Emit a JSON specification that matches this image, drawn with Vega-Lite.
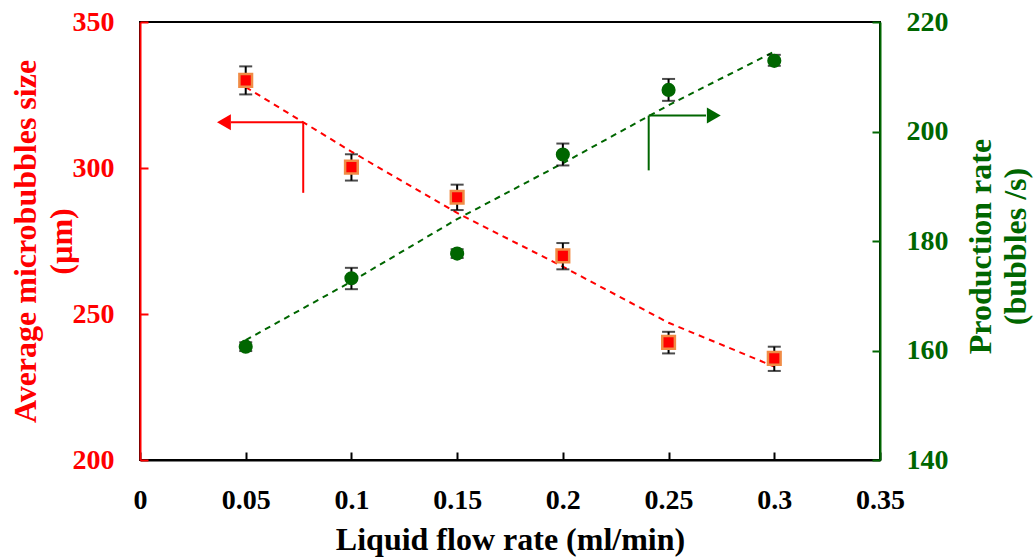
{
  "$schema": "https://vega.github.io/schema/vega-lite/v6.json",
  "width": 740,
  "height": 438,
  "autosize": {"type": "none"},
  "padding": {"left": 140, "top": 22, "right": 155, "bottom": 100},
  "datasets": {
    "size": [
      {"x": 0.05, "v": 330, "lo": 325.2, "hi": 334.8},
      {"x": 0.1, "v": 300.3, "lo": 295.7, "hi": 304.7},
      {"x": 0.15, "v": 290, "lo": 285.6, "hi": 294.3},
      {"x": 0.2, "v": 269.9, "lo": 265.3, "hi": 274.3},
      {"x": 0.25, "v": 240.3, "lo": 236.5, "hi": 243.9},
      {"x": 0.3, "v": 234.8, "lo": 230.5, "hi": 238.8}
    ],
    "sizeTrend": [
      {"x": 0.05, "t": 327.7},
      {"x": 0.1, "t": 305.6},
      {"x": 0.15, "t": 284.6},
      {"x": 0.2, "t": 266.2},
      {"x": 0.25, "t": 247},
      {"x": 0.3, "t": 232}
    ],
    "sizeArrow": [
      {"x1": 0.0772, "x2": 0.0772, "y1": 315.7, "y2": 291.5},
      {"x1": 0.043, "x2": 0.0772, "y1": 315.7, "y2": 315.7}
    ],
    "sizeHead": [{"x": 0.0397, "y": 315.7}],
    "rate": [
      {"x": 0.05, "v": 160.7, "lo": 159.9, "hi": 161.5},
      {"x": 0.1, "v": 173.2, "lo": 171.2, "hi": 175.1},
      {"x": 0.15, "v": 177.7, "lo": 176.9, "hi": 178.5},
      {"x": 0.2, "v": 195.8, "lo": 193.8, "hi": 197.8},
      {"x": 0.25, "v": 207.6, "lo": 205.6, "hi": 209.6},
      {"x": 0.3, "v": 212.9, "lo": 212.0, "hi": 214.0}
    ],
    "rateTrend": [
      {"x": 0.05, "t": 161.9},
      {"x": 0.1, "t": 172.6},
      {"x": 0.15, "t": 184},
      {"x": 0.2, "t": 194.2},
      {"x": 0.25, "t": 204.8},
      {"x": 0.3, "t": 214.6}
    ],
    "rateArrow": [
      {"x1": 0.2406, "x2": 0.2406, "y1": 192.9, "y2": 202.9},
      {"x1": 0.2406, "x2": 0.2677, "y1": 202.9, "y2": 202.9}
    ],
    "rateHead": [{"x": 0.2714, "y": 202.9}]
  },
  "layer": [
    {
      "layer": [
        {
          "data": {"name": "sizeTrend"},
          "mark": {"type": "line", "color": "#FF0000", "strokeWidth": 2, "strokeDash": [6, 5]},
          "encoding": {
            "x": {"field": "x", "type": "quantitative", "scale": {"domain": [0, 0.35], "nice": false}, "title": "Liquid flow rate (ml/min)", "axis": {"values": [0, 0.05, 0.1, 0.15, 0.2, 0.25, 0.3, 0.35], "format": "~g"}},
            "y": {"field": "t", "type": "quantitative", "scale": {"domain": [200, 350], "nice": false}, "title": ["Average microbubbles size", "(µm)"], "axis": {"values": [200, 250, 300, 350]}}
          }
        },
        {
          "data": {"name": "size"},
          "mark": {"type": "errorbar", "color": "black", "ticks": {"size": 13, "thickness": 2, "color": "black"}, "rule": {"strokeWidth": 2, "color": "black"}},
          "encoding": {
            "x": {"field": "x", "type": "quantitative", "scale": {"domain": [0, 0.35], "nice": false}, "title": "Liquid flow rate (ml/min)", "axis": {"values": [0, 0.05, 0.1, 0.15, 0.2, 0.25, 0.3, 0.35], "format": "~g"}},
            "y": {"field": "lo", "type": "quantitative", "scale": {"domain": [200, 350], "nice": false}, "title": ["Average microbubbles size", "(µm)"], "axis": {"values": [200, 250, 300, 350]}},
            "y2": {"field": "hi"}
          }
        },
        {
          "data": {"name": "size"},
          "mark": {"type": "point", "shape": "square", "size": 160, "filled": true, "fill": "#FF0000", "stroke": "#F08C46", "strokeWidth": 2.5, "opacity": 1},
          "encoding": {
            "x": {"field": "x", "type": "quantitative", "scale": {"domain": [0, 0.35], "nice": false}, "title": "Liquid flow rate (ml/min)", "axis": {"values": [0, 0.05, 0.1, 0.15, 0.2, 0.25, 0.3, 0.35], "format": "~g"}},
            "y": {"field": "v", "type": "quantitative", "scale": {"domain": [200, 350], "nice": false}, "title": ["Average microbubbles size", "(µm)"], "axis": {"values": [200, 250, 300, 350]}}
          }
        },
        {
          "data": {"name": "sizeArrow"},
          "mark": {"type": "rule", "color": "#FF0000", "strokeWidth": 2},
          "encoding": {
            "x": {"field": "x1", "type": "quantitative", "scale": {"domain": [0, 0.35], "nice": false}, "title": "Liquid flow rate (ml/min)", "axis": {"values": [0, 0.05, 0.1, 0.15, 0.2, 0.25, 0.3, 0.35], "format": "~g"}},
            "x2": {"field": "x2"},
            "y": {"field": "y1", "type": "quantitative", "scale": {"domain": [200, 350], "nice": false}, "title": ["Average microbubbles size", "(µm)"], "axis": {"values": [200, 250, 300, 350]}},
            "y2": {"field": "y2"}
          }
        },
        {
          "data": {"name": "sizeHead"},
          "mark": {"type": "point", "shape": "triangle-left", "size": 256, "filled": true, "color": "#FF0000", "opacity": 1},
          "encoding": {
            "x": {"field": "x", "type": "quantitative", "scale": {"domain": [0, 0.35], "nice": false}, "title": "Liquid flow rate (ml/min)", "axis": {"values": [0, 0.05, 0.1, 0.15, 0.2, 0.25, 0.3, 0.35], "format": "~g"}},
            "y": {"field": "y", "type": "quantitative", "scale": {"domain": [200, 350], "nice": false}, "title": ["Average microbubbles size", "(µm)"], "axis": {"values": [200, 250, 300, 350]}}
          }
        }
      ]
    },
    {
      "layer": [
        {
          "data": {"name": "rateTrend"},
          "mark": {"type": "line", "color": "#006600", "strokeWidth": 2, "strokeDash": [6, 5]},
          "encoding": {
            "x": {"field": "x", "type": "quantitative", "scale": {"domain": [0, 0.35], "nice": false}, "title": "Liquid flow rate (ml/min)", "axis": {"values": [0, 0.05, 0.1, 0.15, 0.2, 0.25, 0.3, 0.35], "format": "~g"}},
            "y": {"field": "t", "type": "quantitative", "scale": {"domain": [140, 220], "nice": false}, "title": ["Production rate", "(bubbles /s)"], "axis": {"values": [140, 160, 180, 200, 220]}}
          }
        },
        {
          "data": {"name": "rate"},
          "mark": {"type": "errorbar", "color": "black", "ticks": {"size": 13, "thickness": 2, "color": "black"}, "rule": {"strokeWidth": 2, "color": "black"}},
          "encoding": {
            "x": {"field": "x", "type": "quantitative", "scale": {"domain": [0, 0.35], "nice": false}, "title": "Liquid flow rate (ml/min)", "axis": {"values": [0, 0.05, 0.1, 0.15, 0.2, 0.25, 0.3, 0.35], "format": "~g"}},
            "y": {"field": "lo", "type": "quantitative", "scale": {"domain": [140, 220], "nice": false}, "title": ["Production rate", "(bubbles /s)"], "axis": {"values": [140, 160, 180, 200, 220]}},
            "y2": {"field": "hi"}
          }
        },
        {
          "data": {"name": "rate"},
          "mark": {"type": "point", "shape": "circle", "size": 200, "filled": true, "color": "#006600", "opacity": 1},
          "encoding": {
            "x": {"field": "x", "type": "quantitative", "scale": {"domain": [0, 0.35], "nice": false}, "title": "Liquid flow rate (ml/min)", "axis": {"values": [0, 0.05, 0.1, 0.15, 0.2, 0.25, 0.3, 0.35], "format": "~g"}},
            "y": {"field": "v", "type": "quantitative", "scale": {"domain": [140, 220], "nice": false}, "title": ["Production rate", "(bubbles /s)"], "axis": {"values": [140, 160, 180, 200, 220]}}
          }
        },
        {
          "data": {"name": "rateArrow"},
          "mark": {"type": "rule", "color": "#006600", "strokeWidth": 2},
          "encoding": {
            "x": {"field": "x1", "type": "quantitative", "scale": {"domain": [0, 0.35], "nice": false}, "title": "Liquid flow rate (ml/min)", "axis": {"values": [0, 0.05, 0.1, 0.15, 0.2, 0.25, 0.3, 0.35], "format": "~g"}},
            "x2": {"field": "x2"},
            "y": {"field": "y1", "type": "quantitative", "scale": {"domain": [140, 220], "nice": false}, "title": ["Production rate", "(bubbles /s)"], "axis": {"values": [140, 160, 180, 200, 220]}},
            "y2": {"field": "y2"}
          }
        },
        {
          "data": {"name": "rateHead"},
          "mark": {"type": "point", "shape": "triangle-right", "size": 256, "filled": true, "color": "#006600", "opacity": 1},
          "encoding": {
            "x": {"field": "x", "type": "quantitative", "scale": {"domain": [0, 0.35], "nice": false}, "title": "Liquid flow rate (ml/min)", "axis": {"values": [0, 0.05, 0.1, 0.15, 0.2, 0.25, 0.3, 0.35], "format": "~g"}},
            "y": {"field": "y", "type": "quantitative", "scale": {"domain": [140, 220], "nice": false}, "title": ["Production rate", "(bubbles /s)"], "axis": {"values": [140, 160, 180, 200, 220]}}
          }
        }
      ]
    }
  ],
  "resolve": {"scale": {"y": "independent"}},
  "config": {
    "background": "white",
    "font": "Liberation Serif",
    "view": {"stroke": "black", "strokeWidth": 2},
    "axis": {
      "grid": false,
      "labelFont": "Liberation Serif",
      "labelFontSize": 28,
      "labelFontWeight": "bold",
      "titleFont": "Liberation Serif",
      "titleFontSize": 32,
      "titleFontWeight": "bold",
      "domainWidth": 2,
      "tickWidth": 2,
      "tickSize": -8,
      "labelPadding": 34,
      "titleLineHeight": 36,
      "labelFlush": false
    },
    "axisBottom": {
      "labelColor": "black",
      "domainColor": "black",
      "tickColor": "black",
      "titleColor": "black",
      "titleY": 64,
      "titleBaseline": "top"
    },
    "axisLeft": {
      "labelColor": "#FF0000",
      "domainColor": "#FF0000",
      "tickColor": "#FF0000",
      "titleColor": "#FF0000",
      "titleAngle": -90,
      "titleX": -105,
      "titleY": 219,
      "titleAlign": "center",
      "titleBaseline": "alphabetic"
    },
    "axisRight": {
      "labelColor": "#006600",
      "domainColor": "#006600",
      "tickColor": "#006600",
      "titleColor": "#006600",
      "titleAngle": -90,
      "titleX": 110,
      "titleY": 224,
      "titleAlign": "center",
      "titleBaseline": "alphabetic",
      "titleLineHeight": 35
    }
  }
}
